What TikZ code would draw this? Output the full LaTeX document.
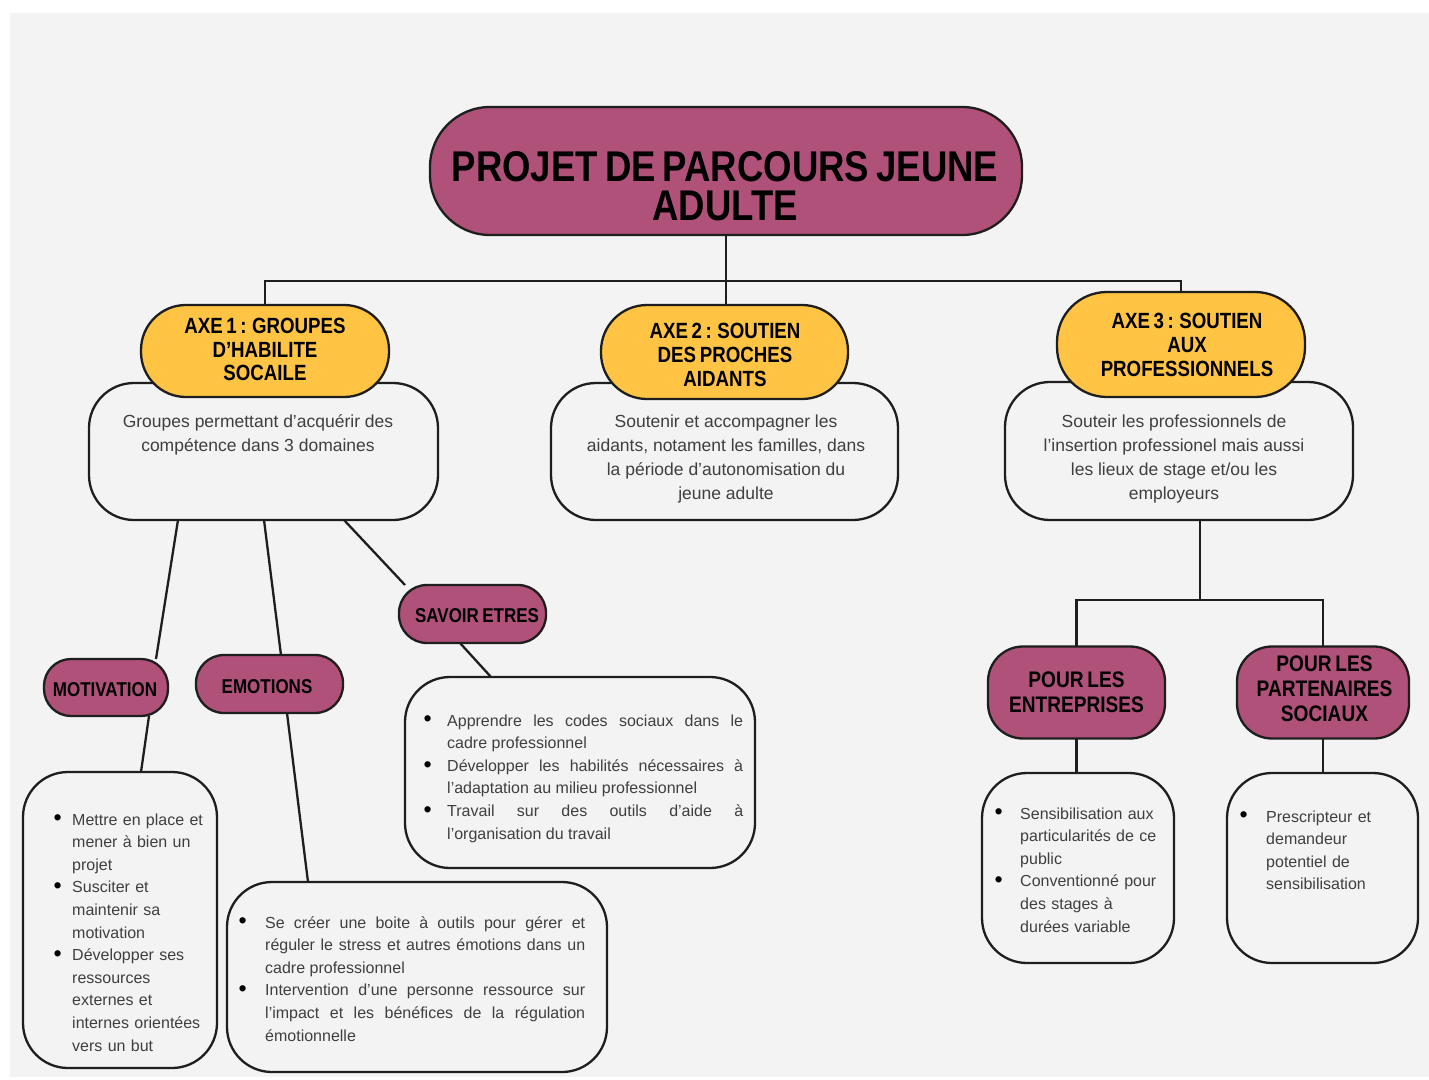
\documentclass[tikz,border=0pt]{standalone}
\usepackage{fontspec}
\setmainfont{Liberation Sans}
\newfontfamily\hdfont{Liberation Sans}[FakeStretch=0.85,WordSpace=0.7]
\usetikzlibrary{calc,backgrounds}
\definecolor{bg}{HTML}{F3F3F3}
\definecolor{mag}{HTML}{B0517A}
\definecolor{yel}{HTML}{FFC444}
\definecolor{txt}{HTML}{3F3F3F}
\definecolor{edge}{HTML}{1E1E1E}
\newcommand{\bigbul}{\textcolor{black}{\raisebox{-0.05em}{\scalebox{1.45}{\textbullet}}}}
\newenvironment{blist}[1]{\begin{list}{\bigbul}{%
  \setlength{\leftmargin}{#1}\setlength{\labelsep}{0pt}\setlength{\labelwidth}{#1}%
  \setlength{\itemsep}{0pt}\setlength{\parsep}{0pt}\setlength{\topsep}{0pt}%
  \setlength{\partopsep}{0pt}\setlength{\itemindent}{0pt}%
  \renewcommand{\makelabel}[1]{##1\hfil}}}{\end{list}}
\tikzset{
  shp/.style={draw=edge, line width=2.3pt, inner sep=0pt, outer sep=0pt},
  pillm/.style={shp, fill=mag},
  pilly/.style={shp, fill=yel},
  wbox/.style={shp, fill=bg, rounded corners=45pt},
  conn/.style={draw=edge, line width=2.3pt},
  hd/.style={inner sep=0pt, align=center, text=black},
  body/.style={inner sep=0pt, align=center, text=txt, font=\fontsize{17.5}{24}\selectfont},
  lst/.style={inner sep=0pt, anchor=north west, text=txt, font=\fontsize{16}{22.6}\selectfont},
}
\begin{document}
\begin{tikzpicture}[x=1pt,y=-1pt]
\useasboundingbox (0,0) rectangle (1429,1079);
\begin{scope}[on background layer]
  \fill[white] (0,0) rectangle (1429,1079);
  \fill[bg] (10,13) rectangle (1429,1077);
\end{scope}

% white boxes
\node[wbox, minimum width=349pt, minimum height=137pt] (box1) at (263.5,451.5) {};
\node[wbox, minimum width=347pt, minimum height=137pt] (box2) at (724.5,451.5) {};
\node[wbox, minimum width=348pt, minimum height=138pt] (box3) at (1179,451) {};
\node[wbox, minimum width=194pt, minimum height=296pt] (motb) at (120,920) {};
\node[wbox, minimum width=380pt, minimum height=190pt] (emob) at (417,977) {};
\node[wbox, minimum width=350pt, minimum height=191pt] (savb) at (580,772.5) {};
\node[wbox, minimum width=192pt, minimum height=190pt] (entb) at (1078,868) {};
\node[wbox, minimum width=191pt, minimum height=190pt] (partb) at (1322.5,868) {};

% pills
\node[pillm, rounded corners=60pt, minimum width=592pt, minimum height=128pt] (title) at (726,171) {};
\node[pilly, rounded corners=45pt, minimum width=248pt, minimum height=92pt] (axe1) at (265,351) {};
\node[pilly, rounded corners=46pt, minimum width=247pt, minimum height=94pt] (axe2) at (724.5,352) {};
\node[pilly, rounded corners=50pt, minimum width=248pt, minimum height=105pt] (axe3) at (1181,344.5) {};
\node[pillm, rounded corners=27pt, minimum width=124pt, minimum height=57pt] (motp) at (106,687.5) {};
\node[pillm, rounded corners=28pt, minimum width=147pt, minimum height=58pt] (emop) at (269.5,684) {};
\node[pillm, rounded corners=28pt, minimum width=147pt, minimum height=58pt] (savp) at (472.5,614) {};
\node[pillm, rounded corners=35pt, minimum width=177pt, minimum height=92pt] (entp) at (1076.5,692.5) {};
\node[pillm, rounded corners=35pt, minimum width=172pt, minimum height=92pt] (partp) at (1323,692.5) {};

% pill texts
\node[hd, font=\hdfont\bfseries\fontsize{43}{39}\selectfont] (ttitle) at (725,186.5) {PROJET DE PARCOURS JEUNE\\ADULTE};
\node[hd, font=\hdfont\bfseries\fontsize{22}{23.5}\selectfont] (taxe1) at (265,349.5) {AXE 1 : GROUPES\\D’HABILITE\\SOCAILE};
\node[hd, font=\hdfont\bfseries\fontsize{22}{24}\selectfont] (taxe2) at (725,355) {AXE 2 : SOUTIEN\\DES PROCHES\\AIDANTS};
\node[hd, font=\hdfont\bfseries\fontsize{22}{24}\selectfont] (taxe3) at (1187,345) {AXE 3 : SOUTIEN\\AUX\\PROFESSIONNELS};
\node[hd, font=\hdfont\bfseries\fontsize{20}{24}\selectfont] (tmot) at (105,690) {MOTIVATION};
\node[hd, font=\hdfont\bfseries\fontsize{20}{24}\selectfont] (temo) at (267,687) {EMOTIONS};
\node[hd, font=\hdfont\bfseries\fontsize{20}{24}\selectfont] (tsav) at (477,616) {SAVOIR ETRES};
\node[hd, font=\hdfont\bfseries\fontsize{22.5}{25}\selectfont] (tent) at (1076.5,692.5) {POUR LES\\ENTREPRISES};
\node[hd, font=\hdfont\bfseries\fontsize{22.5}{25}\selectfont] (tpart) at (1324.5,689) {POUR LES\\PARTENAIRES\\SOCIAUX};

% box texts
\node[body, anchor=north] (tbox1) at (258,410.7) {\strut Groupes permettant d’acquérir des\\compétence dans 3 domaines};
\node[body, anchor=north] (tbox2) at (726,410.7) {\strut Soutenir et accompagner les\\aidants, notament les familles, dans\\la période d’autonomisation du\\jeune adulte};
\node[body, anchor=north] (tbox3) at (1174,410.7) {\strut Souteir les professionnels de\\l’insertion professionel mais aussi\\les lieux de stage et/ou les\\employeurs};

\node[lst, text width=153pt, align=left] (tmotl) at (53.4,802.2) {%
\begin{blist}{18.6pt}
\item \strut Mettre en place et\newline mener à bien un\newline projet
\item Susciter et\newline maintenir sa\newline motivation
\item Développer ses\newline ressources\newline externes et\newline internes orientées\newline vers un but
\end{blist}};
\node[lst, text width=346.6pt, align=justify] (temol) at (238.4,905.2) {%
\begin{blist}{26.6pt}
\item \strut Se créer une boite à outils pour gérer et\linebreak réguler le stress et autres émotions dans un\linebreak cadre professionnel
\item Intervention d’une personne ressource sur\linebreak l’impact et les bénéfices de la régulation\linebreak émotionnelle
\end{blist}};
\node[lst, text width=319.6pt, align=justify] (tsavl) at (423.4,703.2) {%
\begin{blist}{23.6pt}
\item \strut Apprendre les codes sociaux dans le\linebreak cadre professionnel
\item Développer les habilités nécessaires à\linebreak l’adaptation au milieu professionnel
\item Travail sur des outils d’aide à\linebreak l’organisation du travail
\end{blist}};
\node[lst, text width=170pt, align=left] (tentl) at (994.4,796.2) {%
\begin{blist}{25.6pt}
\item \strut Sensibilisation aux\newline particularités de ce\newline public
\item Conventionné pour\newline des stages à\newline durées variable
\end{blist}};
\node[lst, text width=155.6pt, align=left] (tpartl) at (1239.4,799.2) {%
\begin{blist}{26.6pt}
\item \strut Prescripteur et\newline demandeur\newline potentiel de\newline sensibilisation
\end{blist}};

% connectors
\coordinate (bus) at (726,281);
\coordinate (bus2) at (1200,600);
\begin{scope}[on background layer]
  \draw[conn] (title.south) -- (title.south |- axe2.north);
  \draw[conn] (axe1.north) -- (axe1.north |- bus) -- (axe3.north |- bus) -- (axe3.north);
  \draw[conn] ($(box1.south)+(-85.5,0)$) -- ($(motp.north)+(50,0)$);
  \draw[conn] ($(motp.south)+(43,0)$) -- ($(motb.north)+(21,0)$);
  \draw[conn] ($(box1.south)+(0.5,0)$) -- ($(emop.north)+(11.5,0)$);
  \draw[conn] ($(emop.south)+(17.5,0)$) -- ($(emob.north)+(-109,0)$);
  \draw[conn] ($(box1.south)+(80.5,0)$) -- ($(savp.north)+(-67.5,0)$);
  \draw[conn] ($(savp.south)+(-12.5,0)$) -- ($(savb.north)+(-89,0)$);
  \draw[conn] ($(box3.south)+(21,0)$) -- (bus2);
  \draw[conn] (entp.north) |- (bus2) -| (partp.north);
  \draw[conn] (entp.south) -- (entp.south |- entb.north);
  \draw[conn] (partp.south) -- (partp.south |- partb.north);
\end{scope}
\end{tikzpicture}
\end{document}
